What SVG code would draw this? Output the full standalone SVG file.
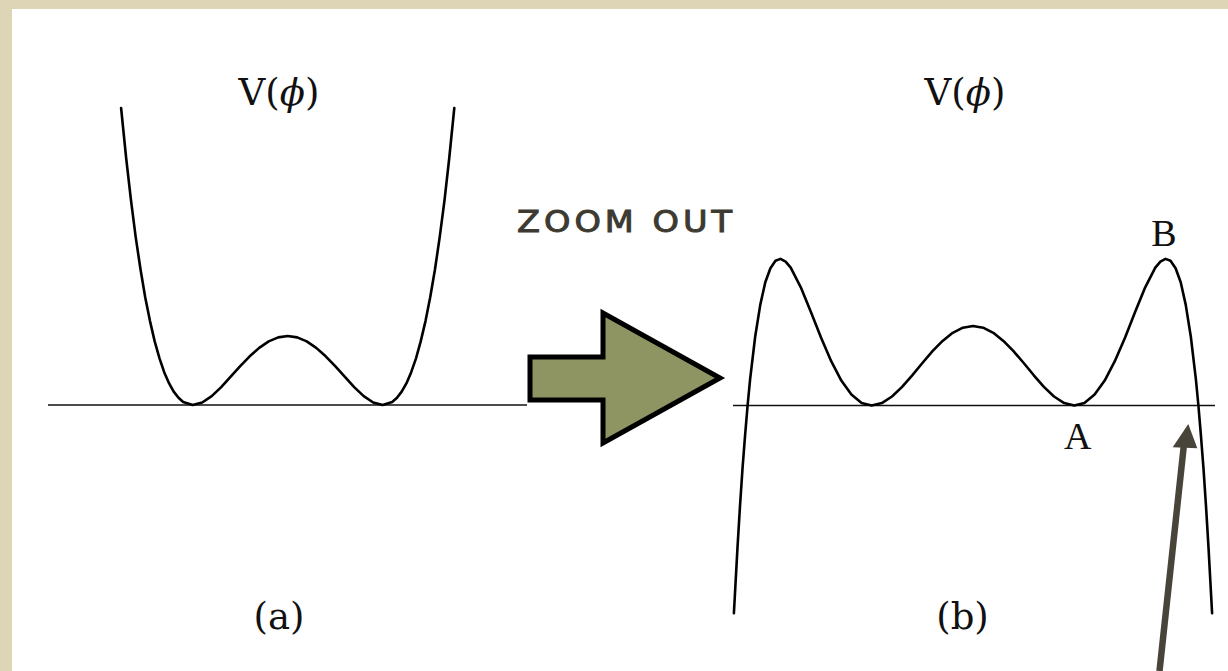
<svg xmlns="http://www.w3.org/2000/svg" width="1228" height="671" viewBox="0 0 1228 671">
<style>
.curve{fill:none;stroke:#000;stroke-width:2.6;stroke-linejoin:round;stroke-linecap:round}
.axis{fill:none;stroke:#111;stroke-width:1.5}
.lbl{font-family:"DejaVu Serif","Liberation Serif",serif;font-size:37px;fill:#111}
.pt{font-family:"Liberation Serif","Times New Roman",serif;font-size:38px;fill:#111}
.cap{font-family:"DejaVu Sans","Liberation Sans",sans-serif;font-size:30px;font-weight:normal;fill:#3d3a32;stroke:#3d3a32;stroke-width:1}
</style>
<rect x="0" y="0" width="1228" height="671" fill="#ddd5b5"/>
<rect x="12" y="9" width="1230" height="700" fill="#ffffff"/>

<g id="plot-a">
<line class="axis" x1="48" y1="405" x2="527" y2="405"/>
<polyline class="curve" points="121.1,108 126.2,158.5 131.0,200.3 135.7,237.1 140.5,269.3 145.2,297.2 150.0,321.1 154.7,341.4 159.5,358.3 164.2,372.2 169.0,383.2 173.7,391.6 178.5,397.8 183.2,402.0 192.7,405 202.2,402.5 211.7,396.1 221.2,387.1 230.7,376.7 240.2,366.2 249.7,356.3 259.2,347.9 268.7,341.4 278.2,337.4 287.7,336 297.2,337.4 306.7,341.4 316.2,347.9 325.7,356.3 335.2,366.2 344.7,376.7 354.2,387.1 363.7,396.1 373.2,402.5 382.7,405 392.2,402.0 397.0,397.8 401.7,391.6 406.5,383.2 411.2,372.2 416.0,358.3 420.7,341.4 425.5,321.1 430.2,297.2 435.0,269.3 439.7,237.1 444.5,200.3 449.2,158.5 454.3,108"/>
<text class="lbl" x="279" y="105" text-anchor="middle">V(<tspan font-style="italic">ϕ</tspan>)</text>
<text class="lbl" x="279" y="629" text-anchor="middle">(a)</text>
</g>

<g id="zoom-out">
<text class="cap" transform="translate(517,232) scale(1.12,1)" x="0" y="0" textLength="192">ZOOM OUT</text>
<polygon points="530,357 603,357 603,313 720,378 603,443 603,400 530,400" fill="#8e9462" stroke="#000" stroke-width="5" stroke-linejoin="miter"/>
</g>

<g id="plot-b">
<line class="axis" x1="733" y1="405.5" x2="1215" y2="405.5"/>
<polyline class="curve" points="733.9,613.3 737.5,547.4 740.0,506.0 742.5,468.6 745.1,435.2 747.6,405.5 750.1,379.4 755.2,336.5 760.3,304.6 765.3,282.3 770.4,268.2 775.5,260.7 780.5,258.9 785.6,261.6 790.7,267.7 800.8,287.3 810.9,312.1 821.1,337.7 831.2,361.2 841.3,380.6 851.4,394.6 861.6,402.9 871.7,405.5 881.8,403.1 892.0,396.5 902.1,386.9 912.2,375.3 922.4,363.0 932.5,351.2 942.6,340.9 952.7,332.8 962.9,327.7 973,326 983.1,327.7 993.3,332.8 1003.4,340.9 1013.5,351.2 1023.7,363.0 1033.8,375.3 1043.9,386.9 1054.0,396.5 1064.2,403.1 1074.3,405.5 1084.4,402.9 1094.6,394.6 1104.7,380.6 1114.8,361.2 1125.0,337.7 1135.1,312.1 1145.2,287.3 1155.3,267.7 1160.4,261.6 1165.5,258.9 1170.5,260.7 1175.6,268.2 1180.7,282.3 1185.7,304.6 1190.8,336.5 1195.9,379.4 1198.4,405.5 1200.9,435.2 1203.5,468.6 1206.0,506.0 1208.5,547.4 1212.1,613.3"/>
<text class="lbl" x="965" y="105" text-anchor="middle">V(<tspan font-style="italic">ϕ</tspan>)</text>
<text class="lbl" x="962.5" y="629" text-anchor="middle">(b)</text>
<text class="pt" x="1164" y="246" text-anchor="middle">B</text>
<text class="pt" x="1077.7" y="449" text-anchor="middle">A</text>
</g>

<g id="connectors">
<line x1="1159.5" y1="671" x2="1184" y2="444" stroke="#48443a" stroke-width="6.5"/>
<polygon points="1188.3,424 1172.7,447.3 1197.3,448.3" fill="#48443a"/>
</g>
</svg>
